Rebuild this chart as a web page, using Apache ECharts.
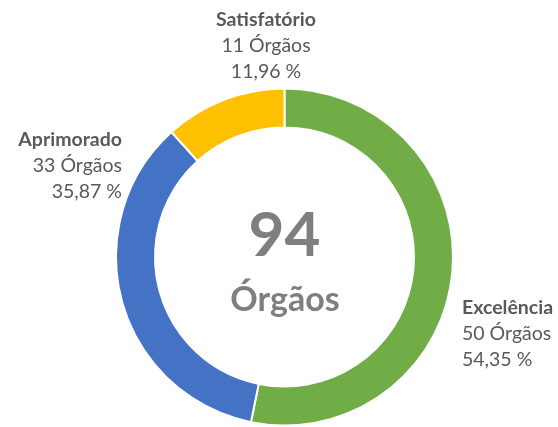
<!DOCTYPE html>
<html>
<head>
<meta charset="utf-8">
<script src="https://cdn.jsdelivr.net/npm/echarts@6/dist/echarts.min.js"></script>
<style>html,body{margin:0;padding:0;background:#fff}#c{width:558px;height:427px}</style>
</head>
<body>
<div id="c"></div>
<script>
const categories = ['Excelência', 'Aprimorado', 'Satisfatório'];
const values = [50, 33, 11];
const pctLabels = ['54,35 %', '35,87 %', '11,96 %'];
const colors = ['#70AD47', '#4472C4', '#FFC000'];
const totalLabel = '94';
const unitLabel = 'Órgãos';

const labelPos = [
  {x: 462, y: 295, align: 'left'},
  {x: 122, y: 127, align: 'right'},
  {x: 266, y: 7, align: 'center'}
];

const chart = echarts.init(document.getElementById('c'));
const font = 'Lato, "Open Sans", sans-serif';
chart.setOption({
  animation: false,
  series: [{
    type: 'pie',
    center: [284.5, 257],
    radius: [129.5, 168.5],
    startAngle: 90,
    clockwise: true,
    itemStyle: {borderColor: '#fff', borderWidth: 2},
    data: categories.map((c, i) => ({
      name: c, value: values[i], itemStyle: {color: colors[i]},
      label: {
        align: labelPos[i].align,
        rich: {
          b: {fontFamily: font, fontWeight: 'bold', fontSize: 19.5, color: '#595959', lineHeight: 26, align: labelPos[i].align},
          n: {fontFamily: font, fontSize: 19.5, color: '#595959', lineHeight: 26, align: labelPos[i].align},
          p: {fontFamily: font, fontSize: 19.5, color: '#595959', lineHeight: 26, align: labelPos[i].align}
        }
      }
    })),
    label: {
      show: true,
      position: 'outside',
      overflow: 'none',
      formatter: p => '{b|' + p.name + '}\n{n|' + p.value + ' Órgãos}\n{p|' + pctLabels[p.dataIndex] + '}'
    },
    labelLine: {show: false},
    labelLayout: p => ({
      x: labelPos[p.dataIndex].x,
      y: labelPos[p.dataIndex].y,
      align: labelPos[p.dataIndex].align,
      verticalAlign: 'top'
    })
  }],
  graphic: [
    {type: 'text', x: 284.5, y: 236, style: {text: totalLabel, fontFamily: font, fontWeight: 'bold', fontSize: 62, fill: '#7F7F7F', align: 'center', verticalAlign: 'middle'}},
    {type: 'text', x: 285, y: 300, style: {text: unitLabel, fontFamily: font, fontWeight: 'bold', fontSize: 34, fill: '#7F7F7F', align: 'center', verticalAlign: 'middle'}}
  ]
});
</script>
</body>
</html>
